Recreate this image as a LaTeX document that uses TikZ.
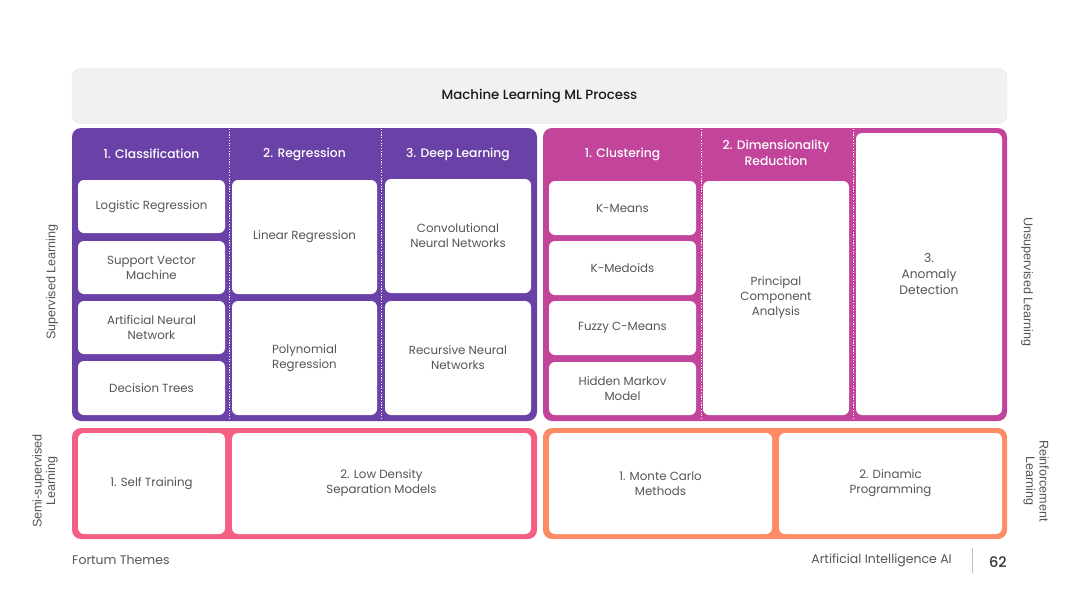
\documentclass[tikz,border=0pt]{standalone}
\usepackage{fontspec}
\setmainfont{Poppins}
\newfontfamily\medfont{Poppins Medium}
\newfontfamily\sidefont{Liberation Sans}
\definecolor{suppurple}{HTML}{6A41A6}
\definecolor{unsmag}{HTML}{C3449B}
\definecolor{semipink}{HTML}{F45F82}
\definecolor{reorange}{HTML}{FD8B66}
\definecolor{txtgray}{HTML}{555555}
\definecolor{hdrfill}{HTML}{F1F1F1}
\definecolor{hdrline}{HTML}{E2E2E2}
\begin{document}
\begin{tikzpicture}[x=1pt,y=-1pt,
  block/.style={rounded corners=9pt, inner sep=0pt},
  wbox/.style={fill=white, rounded corners=6pt, inner sep=0pt, align=center, text=txtgray, font=\fontsize{11.8}{15}\selectfont},
  hdr/.style={text=white, align=center, font=\medfont\fontsize{12.3}{16}\selectfont},
  side/.style={text=txtgray, align=center, font=\sidefont\fontsize{12.6}{13.5}\selectfont},
  divider/.style={white, line width=0.8pt, dash pattern=on 1.2pt off 1.5pt}]
\useasboundingbox (0,0) rectangle (1080,608);
\fill[white] (0,0) rectangle (1080,608);

% title bar
\node[block, fill=hdrfill, draw=hdrline, minimum width=935pt, minimum height=55pt,
  font=\medfont\fontsize{13.3}{16}\selectfont, text=black!90] (title) at (539.5,96) {Machine Learning ML Process};

% supervised block
\node[block, fill=suppurple, minimum width=465pt, minimum height=293pt] (sup) at (304.5,274.5) {};
\draw[divider] (229,129) -- (229,420);
\draw[divider] (381,129) -- (381,420);
\node[hdr] (cls) at (151.5,154) {1. Classification};
\node[hdr] (reg) at (304.5,154) {2. Regression};
\node[hdr] (dl) at (458,154) {3. Deep Learning};
\node[wbox, minimum width=147pt, minimum height=53pt] (lr) at (151.5,206.5) {Logistic Regression};
\node[wbox, minimum width=147pt, minimum height=53pt] (svm) at (151.5,267.5) {Support Vector\\Machine};
\node[wbox, minimum width=147pt, minimum height=53pt] (ann) at (151.5,327.5) {Artificial Neural\\Network};
\node[wbox, minimum width=147pt, minimum height=54pt] (dt) at (151.5,388) {Decision Trees};
\node[wbox, minimum width=145pt, minimum height=114pt] (linr) at (304.5,237) {Linear Regression};
\node[wbox, minimum width=145pt, minimum height=114pt] (poly) at (304.5,358) {Polynomial\\Regression};
\node[wbox, minimum width=146pt, minimum height=114pt] (cnn) at (458,236) {Convolutional\\Neural Networks};
\node[wbox, minimum width=146pt, minimum height=114pt] (rnn) at (458,358) {Recursive Neural\\Networks};

% unsupervised block
\node[block, fill=unsmag, minimum width=464pt, minimum height=293pt] (uns) at (775,274.5) {};
\draw[divider] (701,129) -- (701,420);
\draw[divider] (853,129) -- (853,420);
\node[hdr] (clu) at (622.5,154) {1. Clustering};
\node[hdr] (dim) at (776,153) {2. Dimensionality\\Reduction};
\node[wbox, minimum width=147pt, minimum height=54pt] (km) at (622.5,208) {K-Means};
\node[wbox, minimum width=147pt, minimum height=54pt] (kmed) at (622.5,268) {K-Medoids};
\node[wbox, minimum width=147pt, minimum height=54pt] (fcm) at (622.5,328) {Fuzzy C-Means};
\node[wbox, minimum width=147pt, minimum height=53pt] (hmm) at (622.5,388.5) {Hidden Markov\\Model};
\node[wbox, minimum width=146pt, minimum height=234pt] (pca) at (776,298) {Principal\\Component\\Analysis};
\node[wbox, minimum width=146pt, minimum height=282pt, font=\fontsize{12.3}{16}\selectfont] (anom) at (929,274) {3.\\Anomaly\\Detection};

% semi-supervised block
\node[block, fill=semipink, minimum width=465pt, minimum height=111pt] (semi) at (304.5,483.5) {};
\node[wbox, minimum width=147pt, minimum height=101pt] (st) at (151.5,483.5) {1. Self Training};
\node[wbox, minimum width=299pt, minimum height=101pt] (ld) at (381.5,483.5) {2. Low Density\\Separation Models};

% reinforcement block
\node[block, fill=reorange, minimum width=464pt, minimum height=111pt] (rl) at (775,483.5) {};
\node[wbox, minimum width=223pt, minimum height=101pt] (mc) at (660.5,483.5) {1. Monte Carlo\\Methods};
\node[wbox, minimum width=223pt, minimum height=101pt] (dp) at (890.5,483.5) {2. Dinamic\\Programming};

% side labels
\node[side, rotate=90] (lsup) at (52,282) {Supervised Learning};
\node[side, rotate=90] (lsemi) at (45,481) {Semi-supervised\\Learning};
\node[side, rotate=-90] (luns) at (1027,282) {Unsupervised Learning};
\node[side, rotate=-90] (lrl) at (1036,481) {Reinforcement\\Learning};

% footer
\node[anchor=west, text=txtgray, inner sep=0pt, font=\fontsize{12.5}{14}\selectfont] (ft) at (72,560) {Fortum Themes};
\node[anchor=east, text=txtgray, inner sep=0pt, font=\fontsize{12.5}{14}\selectfont] (ai) at (952,560) {Artificial Intelligence AI};
\coordinate (sepT) at (972,548);
\coordinate (sepB) at (972,573);
\draw[black!25, line width=0.6pt] (sepT) -- (sepB);
\node[text=black!80, inner sep=0pt, font=\medfont\fontsize{14.5}{16}\selectfont] (pg) at (998,562) {62};
\end{tikzpicture}
\end{document}
